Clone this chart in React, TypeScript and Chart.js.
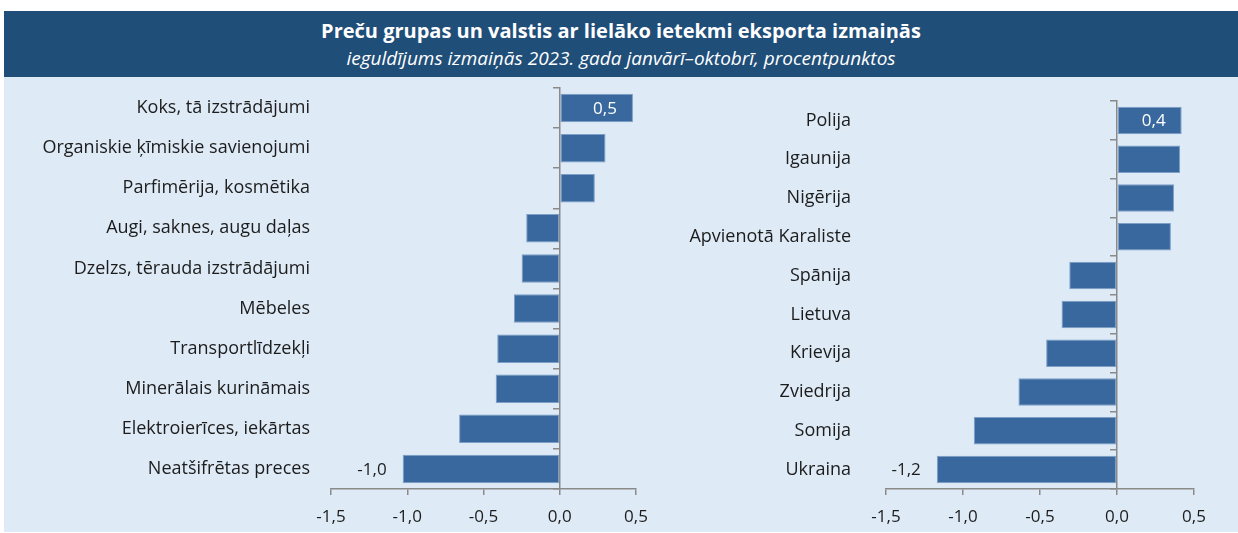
import React, { useEffect, useRef } from "react";
import { Chart, registerables } from "chart.js";

Chart.register(...registerables);

const FONT = "'Open Sans'";

const titleText = "Preču grupas un valstis ar lielāko ietekmi eksporta izmaiņās";
const subtitleText = "ieguldījums izmaiņās 2023. gada janvārī–oktobrī, procentpunktos";

const goodsLabels = [
  "Koks, tā izstrādājumi",
  "Organiskie ķīmiskie savienojumi",
  "Parfimērija, kosmētika",
  "Augi, saknes, augu daļas",
  "Dzelzs, tērauda izstrādājumi",
  "Mēbeles",
  "Transportlīdzekļi",
  "Minerālais kurināmais",
  "Elektroierīces, iekārtas",
  "Neatšifrētas preces",
];
const goodsValues = [0.48, 0.3, 0.23, -0.22, -0.25, -0.3, -0.41, -0.42, -0.66, -1.03];

const countryLabels = [
  "Polija",
  "Igaunija",
  "Nigērija",
  "Apvienotā Karaliste",
  "Spānija",
  "Lietuva",
  "Krievija",
  "Zviedrija",
  "Somija",
  "Ukraina",
];
const countryValues = [0.42, 0.41, 0.37, 0.35, -0.31, -0.36, -0.46, -0.64, -0.93, -1.17];

const axisMin = -1.5;
const axisMax = 0.5;
const axisStep = 0.5;

const BAR = "#38689d";
const BAR_EDGE = "#7d9ec6";
const GREY = "#8a8a8a";
const TEXT = "#1c1c1c";
const CAT_SIZE = 18;
const NUM_SIZE = 17;

const fmt = (v: number) => v.toFixed(1).replace(".", ",");

const labelPlugin = {
  id: "endLabels",
  afterDatasetsDraw(chart: any) {
    const meta = chart.getDatasetMeta(0);
    const data = chart.data.datasets[0].data as number[];
    const ctx = chart.ctx;
    const idxs = [0, data.length - 1];
    ctx.save();
    ctx.font = `${NUM_SIZE}px ${FONT}`;
    ctx.textAlign = "right";
    ctx.textBaseline = "middle";
    idxs.forEach((i) => {
      const el = meta.data[i];
      const v = data[i];
      ctx.fillStyle = v >= 0 ? "#ffffff" : TEXT;
      ctx.fillText(fmt(v), el.x - 16, el.y + 1);
    });
    ctx.restore();
  },
};

function makeConfig(labels: string[], values: number[], yAxisWidth: number, labelGap: number, padTop: number, padRight: number): any {
  return {
    type: "bar",
    data: {
      labels,
      datasets: [
        {
          data: values,
          backgroundColor: BAR,
          borderColor: BAR_EDGE,
          borderWidth: 1,
          borderSkipped: false,
          barPercentage: 0.71,
          categoryPercentage: 1,
          yAxisID: "y",
        },
      ],
    },
    plugins: [labelPlugin],
    options: {
      indexAxis: "y",
      animation: false,
      responsive: false,
      maintainAspectRatio: false,
      layout: { padding: { top: padTop, right: padRight, left: 0, bottom: 0 } },
      plugins: { legend: { display: false }, tooltip: { enabled: false }, title: { display: false } },
      scales: {
        x: {
          type: "linear",
          min: axisMin,
          max: axisMax,
          ticks: {
            stepSize: axisStep,
            callback: (v: number) => fmt(v),
            color: TEXT,
            font: { family: FONT, size: NUM_SIZE },
            padding: 12,
            maxRotation: 0,
          },
          grid: { drawOnChartArea: false, drawTicks: true, tickLength: 6, color: GREY, lineWidth: 1.5 },
          border: { display: true, color: GREY, width: 1.5 },
          afterFit: (s: any) => {
            s.height = 43;
          },
        },
        y: {
          type: "category",
          position: "left",
          ticks: {
            color: TEXT,
            font: { family: FONT, size: CAT_SIZE },
            padding: 0,
            autoSkip: false,
          },
          grid: { display: true, drawOnChartArea: false, drawTicks: true, tickLength: labelGap, color: "rgba(0,0,0,0)" },
          border: { display: false },
          afterFit: (s: any) => {
            s.width = yAxisWidth;
          },
        },
        y2: {
          type: "category",
          position: { x: 0 },
          offset: true,
          ticks: { display: false },
          grid: { drawOnChartArea: false, drawTicks: true, tickLength: 6, color: GREY, lineWidth: 1.5, offset: true },
          border: { display: true, color: GREY, width: 1.5 },
        },
      },
    },
  };
}

export default function App() {
  const leftRef = useRef<HTMLCanvasElement>(null);
  const rightRef = useRef<HTMLCanvasElement>(null);

  useEffect(() => {
    document.body.style.margin = "0";
    const c1 = new Chart(leftRef.current as HTMLCanvasElement, makeConfig(goodsLabels, goodsValues, 327, 21, 11, 48));
    const c2 = new Chart(rightRef.current as HTMLCanvasElement, makeConfig(countryLabels, countryValues, 202, 35, 24, 44));
    return () => {
      c1.destroy();
      c2.destroy();
    };
  }, []);

  return (
    <div style={{ position: "absolute", left: 0, top: 0, width: 1238, height: 533, background: "#ffffff", overflow: "hidden" }}>
      <div
        style={{
          position: "absolute",
          left: 4,
          top: 11,
          width: 1234,
          height: 66,
          background: "#1f4e79",
          color: "#ffffff",
          textAlign: "center",
          fontFamily: FONT,
        }}
      >
        <div style={{ position: "absolute", left: 0, right: 0, top: 8, fontSize: 20, fontWeight: 700, lineHeight: "24px" }}>
          {titleText}
        </div>
        <div style={{ position: "absolute", left: 0, right: 0, top: 36, fontSize: 19, fontStyle: "italic", lineHeight: "22px" }}>
          {subtitleText}
        </div>
      </div>
      <div style={{ position: "absolute", left: 4, top: 77, width: 1234, height: 455, background: "#deeaf6" }} />
      <canvas ref={leftRef} width={680} height={455} style={{ position: "absolute", left: 4, top: 77, width: 680, height: 455 }} />
      <canvas ref={rightRef} width={554} height={455} style={{ position: "absolute", left: 684, top: 77, width: 554, height: 455 }} />
    </div>
  );
}
